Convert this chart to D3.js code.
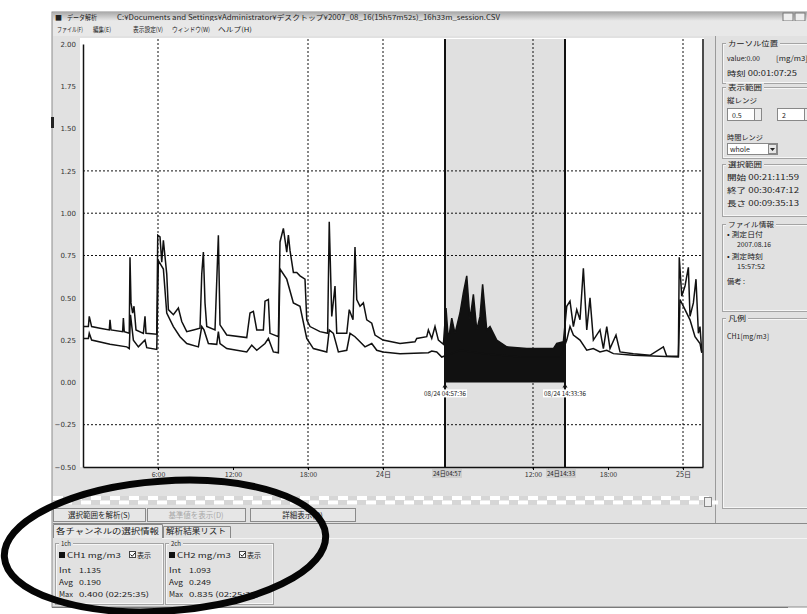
<!DOCTYPE html>
<html>
<head>
<meta charset="utf-8">
<script src="https://cdn.jsdelivr.net/npm/d3@7"></script>
<style>
body { margin: 0; background: #fff; }
svg text { font-family: "Noto Sans CJK JP", "DejaVu Sans", sans-serif; fill: #222; }
</style>
</head>
<body>
<div id="chart-area"></div>
<script>
//============================DATA============================
// hours from the start of the recording, and the two channels [mg/m3]
var timeA = [0, 0.43, 0.5, 0.69, 1.36, 2.1, 2.16, 2.24, 3.17, 3.23,
    3.3, 3.7, 3.76, 3.84, 3.97, 4.08, 4.24, 4.83, 4.96, 5.04,
    5.9, 5.98, 6.16, 6.3, 6.43, 6.7, 6.83, 7.23, 7.63, 7.9,
    8.3, 8.83, 9.36, 9.5, 9.63, 9.76, 9.9, 10.56, 10.83, 10.96,
    11.5, 13.1, 13.36, 13.63, 13.9, 14.43, 14.56, 14.83, 14.96, 15.63,
    15.76, 16.03, 16.3, 16.43, 16.56, 16.83, 17.1, 17.36, 17.76, 17.9,
    18.16, 18.96, 19.57, 19.7, 19.9, 20.16, 20.3, 21.1, 21.3, 21.6,
    21.76, 21.9, 22.16, 22.43, 22.7, 23.1, 23.36, 24.0, 25.36, 26.56,
    26.7, 27.5, 27.63, 27.9, 28.16, 28.43, 28.83, 29.04, 29.23, 29.5,
    29.76, 30.16, 30.43, 30.7, 30.96, 31.23, 31.5, 31.76, 31.97, 32.3,
    32.56, 33.1, 33.9, 35.5, 37.63, 37.9, 38.43, 38.7, 38.96, 39.23,
    39.5, 39.76, 40.03, 40.3, 40.56, 40.83, 41.36, 41.63, 41.9, 42.16,
    42.64, 42.96, 44.03, 45.36, 46.43, 46.7, 47.63, 47.7, 47.9, 48.16,
    48.43, 48.56, 48.83, 49.04, 49.23, 49.36, 49.5];
var valueA = [0.33, 0.33, 0.39, 0.33, 0.32, 0.31, 0.37, 0.31, 0.30, 0.38,
    0.30, 0.29, 0.74, 0.47, 0.41, 0.45, 0.31, 0.29, 0.39, 0.29,
    0.285, 0.87, 0.86, 0.71, 0.84, 0.64, 0.43, 0.40, 0.44, 0.36,
    0.30, 0.31, 0.32, 0.64, 0.77, 0.47, 0.33, 0.31, 0.87, 0.34,
    0.28, 0.265, 0.41, 0.42, 0.31, 0.31, 0.48, 0.49, 0.29, 0.27,
    0.83, 0.91, 0.77, 0.87, 0.78, 0.65, 0.65, 0.63, 0.61, 0.37,
    0.33, 0.30, 0.29, 0.95, 0.39, 0.57, 0.29, 0.29, 0.43, 0.37,
    0.80, 0.49, 0.45, 0.47, 0.37, 0.35, 0.28, 0.25, 0.23, 0.24,
    0.26, 0.27, 0.31, 0.26, 0.33, 0.25, 0.225, 0.44, 0.25, 0.38,
    0.29, 0.41, 0.53, 0.63, 0.37, 0.52, 0.31, 0.39, 0.58, 0.31,
    0.33, 0.25, 0.21, 0.20, 0.20, 0.23, 0.24, 0.45, 0.48, 0.33,
    0.43, 0.37, 0.675, 0.31, 0.50, 0.25, 0.31, 0.20, 0.33, 0.20,
    0.28, 0.18, 0.17, 0.16, 0.21, 0.155, 0.155, 0.74, 0.51, 0.57,
    0.68, 0.39, 0.47, 0.61, 0.29, 0.33, 0.18];
var timeB = [0, 0.43, 0.5, 0.69, 2.16, 3.5, 3.7, 3.8, 4.03, 4.43,
    4.96, 5.1, 5.9, 6.03, 6.43, 6.7, 7.23, 7.76, 8.3, 9.23,
    9.5, 9.68, 10.03, 10.7, 10.83, 10.96, 11.5, 13.1, 13.5, 13.9,
    14.56, 14.83, 15.23, 15.63, 15.76, 16.3, 16.83, 17.36, 17.9, 18.43,
    19.5, 19.7, 20.03, 20.43, 21.1, 21.36, 21.76, 22.16, 22.56, 23.1,
    23.5, 24.0, 25.36, 27.63, 27.9, 28.3, 28.7, 30.2, 32.1, 35.0,
    38.2, 38.7, 38.96, 39.23, 39.76, 40.3, 40.83, 41.36, 41.9, 42.43,
    44.03, 47.63, 47.76, 48.16, 48.56, 48.96, 49.36, 49.5];
var valueB = [0.26, 0.26, 0.29, 0.25, 0.225, 0.21, 0.20, 0.40, 0.25, 0.21,
    0.25, 0.205, 0.195, 0.72, 0.67, 0.41, 0.33, 0.27, 0.23, 0.21,
    0.33, 0.31, 0.23, 0.225, 0.30, 0.23, 0.20, 0.18, 0.22, 0.19,
    0.23, 0.26, 0.18, 0.175, 0.67, 0.61, 0.47, 0.45, 0.26, 0.20,
    0.18, 0.31, 0.29, 0.18, 0.19, 0.29, 0.27, 0.24, 0.21, 0.23,
    0.19, 0.18, 0.17, 0.175, 0.185, 0.18, 0.15, 0.19, 0.17, 0.15,
    0.15, 0.25, 0.33, 0.28, 0.25, 0.19, 0.20, 0.18, 0.19, 0.17,
    0.16, 0.15, 0.49, 0.43, 0.37, 0.27, 0.23, 0.175];

var yTicks = [2.0, 1.75, 1.5, 1.25, 1.0, 0.75, 0.5, 0.25, 0.0, -0.25, -0.5];
var gridY = [1.25, 1.0, 0.75, -0.25];
var xTickHours = [6, 12, 18, 24, 36, 42, 48];
var xTickLabels = ["6:00", "12:00", "18:00", "24日", "12:00", "18:00", "25日"];
var gridX = [6, 18, 24, 36, 48];
var selRange = [28.96, 38.56];
var selAxisLabels = ["24日04:57", "24日14:33"];
var selLabels = ["08/24 04:57:36", "08/24 14:33:36"];

//============================GLOBALS============================
var margins = { left: 83, right: 104, top: 44, bottom: 147 };
var width = 807 - margins.left - margins.right;
var height = 614 - margins.top - margins.bottom;
var panel = "#e1e1e1";

var svg = d3.select("#chart-area")
    .append("svg")
    .attr("width", 807)
    .attr("height", 614);

function txt(parent, x, y, s, size, len, anchor, color) {
    var t = parent.append("text")
        .attr("x", x)
        .attr("y", y)
        .attr("font-size", (size || 7) + "px")
        .attr("text-anchor", anchor || "start")
        .text(s);
    if (len) t.attr("textLength", len).attr("lengthAdjust", "spacingAndGlyphs");
    if (color) t.style("fill", color);
    return t;
}

function groupBox(parent, x, y, w, h, title, tw) {
    parent.append("rect").attr("x", x + 0.5).attr("y", y + 0.5).attr("width", w).attr("height", h)
        .attr("fill", "none").attr("stroke", "#a4a4a4");
    parent.append("rect").attr("x", x + 1.5).attr("y", y + 1.5).attr("width", w - 2).attr("height", h - 2)
        .attr("fill", "none").attr("stroke", "#f6f6f6");
    parent.append("rect").attr("x", x + 4).attr("y", y - 4).attr("width", tw + 4).attr("height", 8).attr("fill", panel);
    txt(parent, x + 6, y + 3, title, 7, tw);
}

//============================WINDOW============================
var win = svg.append("g");
win.append("rect").attr("x", 52).attr("y", 12).attr("width", 760).attr("height", 595)
    .attr("fill", panel).attr("stroke", "#8c8c8c");
win.append("rect").attr("x", 51).attr("y", 117).attr("width", 3).attr("height", 11).attr("fill", "#222");

// title bar
var grad = svg.append("defs").append("linearGradient").attr("id", "tb")
    .attr("x1", 0).attr("y1", 0).attr("x2", 0).attr("y2", 1);
grad.append("stop").attr("offset", "0%").attr("stop-color", "#a9a9a9");
grad.append("stop").attr("offset", "100%").attr("stop-color", "#e9e9e9");
win.append("rect").attr("x", 53).attr("y", 12).attr("width", 754).attr("height", 9).attr("fill", "url(#tb)");
txt(win, 55, 19.5, "■", 7);
txt(win, 67, 19.5, "データ解析", 7, 30);
txt(win, 117, 19.5, "C:¥Documents and Settings¥Administrator¥デスクトップ¥2007_08_16(15h57m52s)_16h33m_session.CSV", 7, 383);
win.append("rect").attr("x", 783).attr("y", 13).attr("width", 10).attr("height", 8).attr("fill", "#eee").attr("stroke", "#777");
win.append("rect").attr("x", 795).attr("y", 13).attr("width", 10).attr("height", 8).attr("fill", "#eee").attr("stroke", "#777");

// menu
win.append("rect").attr("x", 53).attr("y", 21).attr("width", 754).attr("height", 15).attr("fill", "#e8e8e8");
txt(win, 57, 32, "ファイル(F)", 6.5, 26);
txt(win, 93, 32, "編集(E)", 6.5, 18);
txt(win, 133, 32, "表示設定(V)", 6.5, 30);
txt(win, 172, 32, "ウィンドウ(W)", 6.5, 38);
txt(win, 218, 32, "ヘルプ(H)", 6.5, 34);

// separator between chart and right panel
win.append("line").attr("x1", 715.5).attr("x2", 715.5).attr("y1", 36).attr("y2", 523).attr("stroke", "#9a9a9a");

//============================RIGHT PANEL============================
var rp = svg.append("g");
groupBox(rp, 722, 43, 90, 40, "カーソル位置", 50);
txt(rp, 727, 61, "value:0.00", 7, 33);
txt(rp, 776, 61, "[mg/m3]", 7, 32);
txt(rp, 727, 76, "時刻  00:01:07:25", 7, 70);

groupBox(rp, 722, 87, 90, 71, "表示範囲", 34);
txt(rp, 727, 103, "縦レンジ", 7, 30);
rp.append("rect").attr("x", 727.5).attr("y", 108.5).attr("width", 27).attr("height", 12).attr("fill", "#fff").attr("stroke", "#888");
rp.append("rect").attr("x", 754.5).attr("y", 108.5).attr("width", 7).attr("height", 12).attr("fill", "#eee").attr("stroke", "#888");
txt(rp, 732, 118, "0.5", 7);
rp.append("rect").attr("x", 777.5).attr("y", 108.5).attr("width", 27).attr("height", 12).attr("fill", "#fff").attr("stroke", "#888");
rp.append("rect").attr("x", 804.5).attr("y", 108.5).attr("width", 7).attr("height", 12).attr("fill", "#eee").attr("stroke", "#888");
txt(rp, 782, 118, "2", 7);
txt(rp, 727, 140, "時間レンジ", 7, 36);
rp.append("rect").attr("x", 727.5).attr("y", 143.5).attr("width", 50).attr("height", 11).attr("fill", "#fff").attr("stroke", "#888");
rp.append("rect").attr("x", 768.5).attr("y", 144.5).attr("width", 8).attr("height", 9).attr("fill", "#e6e6e6").attr("stroke", "#888");
rp.append("path").attr("d", "M770,148 L775,148 L772.5,151 Z").attr("fill", "#222");
txt(rp, 730, 152, "whole", 7);

groupBox(rp, 722, 164, 90, 52, "選択範囲", 34);
txt(rp, 727, 180, "開始  00:21:11:59", 7, 72);
txt(rp, 727, 193, "終了  00:30:47:12", 7, 72);
txt(rp, 727, 206, "長さ  00:09:35:13", 7, 72);

groupBox(rp, 722, 224, 90, 87, "ファイル情報", 46);
txt(rp, 727, 237, "• 測定日付", 7, 36);
txt(rp, 737, 247, "2007.08.16", 7, 34);
txt(rp, 727, 259, "• 測定時刻", 7, 36);
txt(rp, 737, 269, "15:57:52", 7, 28);
txt(rp, 727, 284, "備考 :", 7, 18);

groupBox(rp, 722, 318, 90, 190, "凡例", 18);
txt(rp, 727, 339, "CH1[mg/m3]", 7, 42);

//============================CHART============================
var g = svg.append("g")
    .attr("transform", "translate(" + margins.left + ", " + margins.top + ")");

var x = d3.scaleLinear()
    .domain([0, 49.6])
    .range([0, width]);

var y = d3.scaleLinear()
    .domain([-0.5, 2.0])
    .range([height, 0]);

var dataA = d3.zip(timeA, valueA);
var dataB = d3.zip(timeB, valueB);

// white plot background
g.append("rect").attr("x", -3).attr("y", -6).attr("width", width + 4).attr("height", height + 6).attr("fill", "#fff");

// selected time range
g.append("rect")
    .attr("x", x(selRange[0]))
    .attr("y", -5)
    .attr("width", x(selRange[1]) - x(selRange[0]))
    .attr("height", height + 5)
    .attr("fill", "#e0e0e0");

// dotted grid
g.selectAll(".gy").data(gridY).enter().append("line")
    .attr("x1", 0).attr("x2", width)
    .attr("y1", function(d){ return y(d); })
    .attr("y2", function(d){ return y(d); })
    .attr("stroke", "#111").attr("stroke-dasharray", "2,2");
g.selectAll(".gx").data(gridX).enter().append("line")
    .attr("x1", function(d){ return x(d); })
    .attr("x2", function(d){ return x(d); })
    .attr("y1", -5).attr("y2", height + 3)
    .attr("stroke", "#111").attr("stroke-dasharray", "2,2");

// black fill of channel 1 inside the selection
g.append("clipPath").attr("id", "selclip").append("rect")
    .attr("x", x(selRange[0])).attr("y", -5)
    .attr("width", x(selRange[1]) - x(selRange[0])).attr("height", height + 5);
g.append("path")
    .datum(dataA)
    .attr("clip-path", "url(#selclip)")
    .attr("fill", "#111")
    .attr("d", d3.area()
        .x(function(d){ return x(d[0]); })
        .y0(y(0))
        .y1(function(d){ return y(d[1]); }));

// series lines
var line = d3.line()
    .x(function(d){ return x(d[0]); })
    .y(function(d){ return y(d[1]); });
[dataB, dataA].forEach(function(data){
    g.append("path")
        .datum(data)
        .attr("fill", "none")
        .attr("stroke", "#111")
        .attr("stroke-width", 1.5)
        .attr("stroke-linejoin", "miter")
        .attr("d", line);
});

// axes
var yAxisCall = d3.axisLeft(y)
    .tickValues(yTicks)
    .tickFormat(d3.format(".2f"))
    .tickSize(0)
    .tickPadding(7);
var ya = g.append("g").attr("class", "y axis").call(yAxisCall);
ya.selectAll("text").attr("font-size", "7px").style("font-family", "DejaVu Sans").style("fill", "#333");
ya.select(".domain").attr("stroke", "#111").attr("stroke-width", 1.5);

var xAxisCall = d3.axisBottom(x)
    .tickValues(xTickHours)
    .tickFormat(function(d, i){ return xTickLabels[i]; })
    .tickSizeInner(3)
    .tickSizeOuter(0)
    .tickPadding(2);
var xa = g.append("g").attr("class", "x axis")
    .attr("transform", "translate(0, " + height + ")")
    .call(xAxisCall);
xa.selectAll("text").attr("font-size", "7px").style("fill", "#333");
xa.select(".domain").attr("stroke", "#111").attr("stroke-width", 1.5);

// right border of the plot
g.append("line").attr("x1", width).attr("x2", width).attr("y1", -5).attr("y2", height)
    .attr("stroke", "#111").attr("stroke-width", 1.5);

// selection cursors
selRange.forEach(function(t, i){
    var sx = x(t);
    g.append("line").attr("x1", sx).attr("x2", sx).attr("y1", -5).attr("y2", height)
        .attr("stroke", "#111").attr("stroke-width", 2);
    g.append("path")
        .attr("d", "M" + (sx - 2.5) + "," + (y(0) + 5) + " L" + (sx + 2.5) + "," + (y(0) + 5) + " L" + sx + "," + (y(0) + 1) + " Z")
        .attr("fill", "#111");
    g.append("rect").attr("x", sx - 22).attr("y", y(0) + 7).attr("width", 44).attr("height", 8).attr("fill", "#fff");
    txt(g, sx, y(0) + 13.5, selLabels[i], 6.5, 42, "middle");
    g.append("rect").attr("x", sx - 15 + (i ? -4 : 2)).attr("y", height + 2).attr("width", 30).attr("height", 9).attr("fill", "#cfcfcf");
    txt(g, sx + (i ? -4 : 2), height + 9, selAxisLabels[i], 6.5, 28, "middle");
});

//============================BOTTOM PANEL============================
var bp = svg.append("g");
// checkered strip
bp.append("rect").attr("x", 53).attr("y", 496).attr("width", 650).attr("height", 9).attr("fill", "#d6d6d6");
d3.range(35).forEach(function(i){
    bp.append("rect").attr("x", 53 + i * 19).attr("y", 496).attr("width", 10).attr("height", 4).attr("fill", "#fff");
    bp.append("rect").attr("x", 62 + i * 19).attr("y", 500.5).attr("width", 10).attr("height", 4).attr("fill", "#fff");
});
bp.append("rect").attr("x", 53).attr("y", 505).attr("width", 660).attr("height", 4).attr("fill", panel);
bp.append("rect").attr("x", 704.5).attr("y", 497.5).attr("width", 7).attr("height", 9).attr("fill", "#eee").attr("stroke", "#888");

// buttons
var buttons = [[53, 92, "選択範囲を解析(S)", "#222"], [147, 98, "基準値を表示(D)", "#a8a8a8"], [250, 105, "詳細表示(O)", "#222"]];
buttons.forEach(function(b){
    bp.append("rect").attr("x", b[0] + 0.5).attr("y", 508.5).attr("width", b[1]).attr("height", 13)
        .attr("fill", "#e6e6e6").attr("stroke", "#8a8a8a");
    txt(bp, b[0] + b[1] / 2, 518, b[2], 7.5, null, "middle", b[3]);
});
bp.append("line").attr("x1", 53).attr("x2", 807).attr("y1", 523.5).attr("y2", 523.5).attr("stroke", "#8a8a8a");

// tabs
bp.append("path").attr("d", "M53.5,538 L53.5,524.5 L162.5,524.5 L162.5,538").attr("fill", "#e8e8e8").attr("stroke", "#888");
txt(bp, 56, 534, "各チャンネルの選択情報", 7.5, 103);
bp.append("path").attr("d", "M163.5,538 L163.5,526.5 L230.5,526.5 L230.5,538").attr("fill", panel).attr("stroke", "#888");
txt(bp, 166, 534, "解析結果リスト", 7.5, 60);
bp.append("line").attr("x1", 162).attr("x2", 807).attr("y1", 538.5).attr("y2", 538.5).attr("stroke", "#f4f4f4");

// channel boxes
var chBoxes = [
    [55, "1ch", "CH1", "1.135", "0.190", "0.400 (02:25:35)"],
    [165, "2ch", "CH2", "1.093", "0.249", "0.835 (02:25:30)"]
];
chBoxes.forEach(function(c){
    groupBox(bp, c[0], 543, 108, 61, c[1], 10);
    bp.append("rect").attr("x", c[0] + 4).attr("y", 552).attr("width", 6).attr("height", 6).attr("fill", "#111");
    txt(bp, c[0] + 12, 558, c[2] + " mg/m3", 7, 54);
    bp.append("rect").attr("x", c[0] + 74.5).attr("y", 551.5).attr("width", 6).attr("height", 6).attr("fill", "#fff").attr("stroke", "#444");
    bp.append("path").attr("d", "M" + (c[0] + 75.5) + ",554.5 l1.7,1.8 l3,-3.5").attr("fill", "none").attr("stroke", "#111");
    txt(bp, c[0] + 82, 558, "表示", 7, 14);
    txt(bp, c[0] + 4, 573, "Int", 7, 12);
    txt(bp, c[0] + 24, 573, c[3], 7, 22);
    txt(bp, c[0] + 4, 585, "Avg", 7, 14);
    txt(bp, c[0] + 24, 585, c[4], 7, 22);
    txt(bp, c[0] + 4, 597, "Max", 7, 14);
    txt(bp, c[0] + 24, 597, c[5], 7, 70);
});
bp.append("line").attr("x1", 52).attr("x2", 788).attr("y1", 607.5).attr("y2", 607.5).attr("stroke", "#7a7a7a");
bp.append("rect").attr("x", 0).attr("y", 608).attr("width", 807).attr("height", 6).attr("fill", "#fff");

//============================MARKER ELLIPSE============================
svg.append("ellipse")
    .attr("cx", 165).attr("cy", 546)
    .attr("rx", 161).attr("ry", 65)
    .attr("transform", "rotate(-4, 165, 546)")
    .attr("fill", "none")
    .attr("stroke", "#050505")
    .attr("stroke-width", 7);
</script>
</body>
</html>
